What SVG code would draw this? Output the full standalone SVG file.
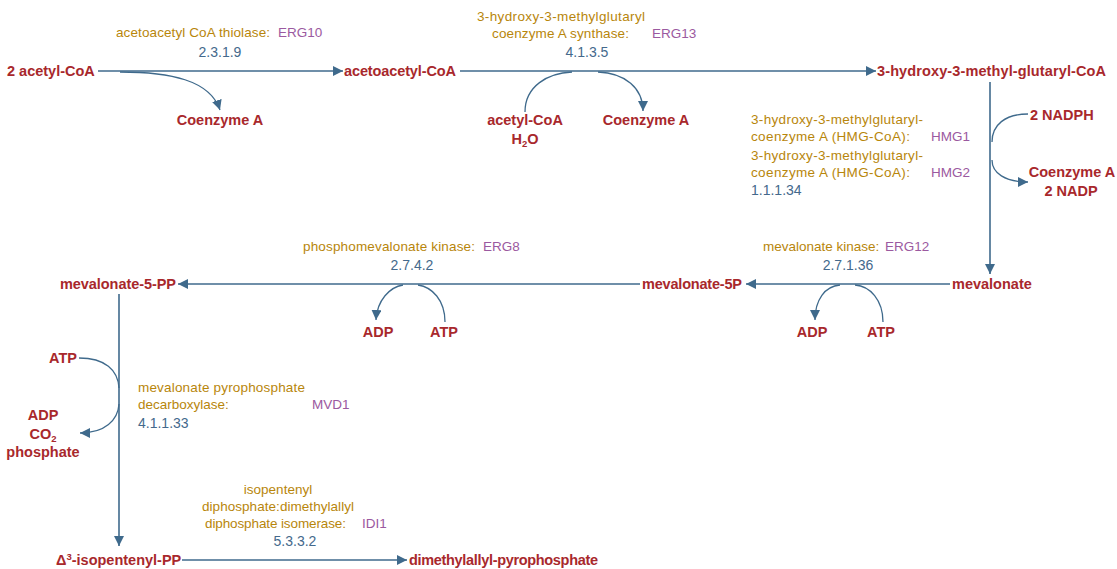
<svg xmlns="http://www.w3.org/2000/svg" width="1117" height="569" viewBox="0 0 1117 569">
<style>
.c{font-family:"Liberation Sans",Arial,sans-serif;font-weight:bold;font-size:14.5px;fill:#a8282c}
.e{font-family:"Liberation Sans",Arial,sans-serif;font-size:13.5px;fill:#b8860b}
.g{font-family:"Liberation Sans",Arial,sans-serif;font-size:13.5px;fill:#9b59a0}
.n{font-family:"Liberation Sans",Arial,sans-serif;font-size:14px;fill:#44698c}
.m{fill:none;stroke:#3f6a8c;stroke-width:1.6}
.s{fill:none;stroke:#3f6a8c;stroke-width:1.3}
</style>
<defs>
<marker id="ah" markerUnits="userSpaceOnUse" markerWidth="12" markerHeight="10" refX="10" refY="5" orient="auto">
<path d="M0,0 L10,5 L0,10 Z" fill="#3f6a8c"/>
</marker>
</defs>
<rect width="1117" height="569" fill="#ffffff"/>
<g id="connectors">
<path class="m" d="M98,71 L343,71" marker-end="url(#ah)"/>
<path class="s" d="M120,72 C170,72 210,80 220,110" marker-end="url(#ah)"/>
<path class="m" d="M460,71 L876,71" marker-end="url(#ah)"/>
<path class="s" d="M525,112 C525,86 548,73 572,72"/>
<path class="s" d="M598,72 C625,73 643,88 643,111" marker-end="url(#ah)"/>
<path class="m" d="M990,82 L990,274" marker-end="url(#ah)"/>
<path class="s" d="M1028,114 C1005,114 992,125 992,142"/>
<path class="s" d="M992,160 C992,173 1005,182 1028,182" marker-end="url(#ah)"/>
<path class="m" d="M950,284 L746,284" marker-end="url(#ah)"/>
<path class="s" d="M883,322 C883,300 870,286 855,285"/>
<path class="s" d="M840,285 C825,286 815,300 815,320" marker-end="url(#ah)"/>
<path class="m" d="M640,284 L178,284" marker-end="url(#ah)"/>
<path class="s" d="M445,322 C445,300 432,287 418,285"/>
<path class="s" d="M403,285 C390,287 377,300 376,320" marker-end="url(#ah)"/>
<path class="m" d="M119,294 L119,546" marker-end="url(#ah)"/>
<path class="s" d="M79,358 C105,358 118,370 119,388"/>
<path class="s" d="M119,404 C118,420 105,433 80,433" marker-end="url(#ah)"/>
<path class="m" d="M182,560 L407,560" marker-end="url(#ah)"/>
</g>
<g id="acetylCoA"><text class="c" x="7" y="76">2 acetyl-CoA</text></g>
<g id="acetoacetylCoA"><text class="c" x="344" y="76" textLength="112">acetoacetyl-CoA</text></g>
<g id="coA1"><text class="c" x="220" y="125" text-anchor="middle">Coenzyme A</text></g>
<g id="rxn1"><text class="e" x="116" y="37" textLength="154">acetoacetyl CoA thiolase:</text><text class="g" x="278" y="37">ERG10</text><text class="n" x="220" y="57" text-anchor="middle">2.3.1.9</text></g>
<g id="hmgCoA"><text class="c" x="877" y="76" textLength="229">3-hydroxy-3-methyl-glutaryl-CoA</text></g>
<g id="rxn2"><text class="e" x="477" y="21" textLength="168">3-hydroxy-3-methylglutaryl</text><text class="e" x="492" y="38" textLength="137">coenzyme A synthase:</text><text class="g" x="652" y="38">ERG13</text><text class="n" x="587" y="57" text-anchor="middle">4.1.3.5</text></g>
<g id="acetylCoA2"><text class="c" x="525" y="125" text-anchor="middle">acetyl-CoA</text><text class="c" x="525" y="144" text-anchor="middle">H<tspan font-size="9.5" dy="3">2</tspan><tspan dy="-3">O</tspan></text></g>
<g id="coA2"><text class="c" x="646" y="125" text-anchor="middle">Coenzyme A</text></g>
<g id="nadph"><text class="c" x="1030" y="120">2 NADPH</text></g>
<g id="coA3"><text class="c" x="1072" y="177" text-anchor="middle">Coenzyme A</text><text class="c" x="1071" y="196" text-anchor="middle">2 NADP</text></g>
<g id="rxn3"><text class="e" x="751" y="124" textLength="172">3-hydroxy-3-methylglutaryl-</text><text class="e" x="751" y="141" textLength="159">coenzyme A (HMG-CoA):</text><text class="g" x="931" y="141">HMG1</text><text class="e" x="751" y="160" textLength="172">3-hydroxy-3-methylglutaryl-</text><text class="e" x="751" y="177" textLength="159">coenzyme A (HMG-CoA):</text><text class="g" x="931" y="177">HMG2</text><text class="n" x="751" y="195">1.1.1.34</text></g>
<g id="mevalonate"><text class="c" x="952" y="289">mevalonate</text></g>
<g id="rxn4"><text class="e" x="763" y="251">mevalonate kinase:</text><text class="g" x="885" y="251">ERG12</text><text class="n" x="848" y="270" text-anchor="middle">2.7.1.36</text></g>
<g id="adp1"><text class="c" x="812" y="337" text-anchor="middle">ADP</text></g>
<g id="atp1"><text class="c" x="881" y="337" text-anchor="middle">ATP</text></g>
<g id="mev5p"><text class="c" x="642" y="289" textLength="100">mevalonate-5P</text></g>
<g id="rxn5"><text class="e" x="303" y="251" textLength="172">phosphomevalonate kinase:</text><text class="g" x="483" y="251">ERG8</text><text class="n" x="412" y="270" text-anchor="middle">2.7.4.2</text></g>
<g id="adp2"><text class="c" x="378" y="337" text-anchor="middle">ADP</text></g>
<g id="atp2"><text class="c" x="444" y="337" text-anchor="middle">ATP</text></g>
<g id="mev5pp"><text class="c" x="60" y="289" textLength="116">mevalonate-5-PP</text></g>
<g id="atp3"><text class="c" x="49" y="363">ATP</text></g>
<g id="adp3"><text class="c" x="43" y="420" text-anchor="middle">ADP</text><text class="c" x="43" y="439" text-anchor="middle">CO<tspan font-size="9.5" dy="3">2</tspan></text><text class="c" x="43" y="457" text-anchor="middle">phosphate</text></g>
<g id="rxn6"><text class="e" x="138" y="392" textLength="167">mevalonate pyrophosphate</text><text class="e" x="138" y="409">decarboxylase:</text><text class="g" x="312" y="409">MVD1</text><text class="n" x="138" y="428">4.1.1.33</text></g>
<g id="ipp"><text class="c" x="56" y="565">Δ<tspan font-size="9.5" dy="-5">3</tspan><tspan dy="5">-isopentenyl-PP</tspan></text></g>
<g id="dmapp"><text class="c" x="409" y="565" textLength="189">dimethylallyl-pyrophosphate</text></g>
<g id="rxn7"><text class="e" x="278" y="494" text-anchor="middle">isopentenyl</text><text class="e" x="202" y="511" textLength="152">diphosphate:dimethylallyl</text><text class="e" x="205" y="528" textLength="141">diphosphate isomerase:</text><text class="g" x="362" y="528">IDI1</text><text class="n" x="295" y="546" text-anchor="middle">5.3.3.2</text></g>
</svg>
